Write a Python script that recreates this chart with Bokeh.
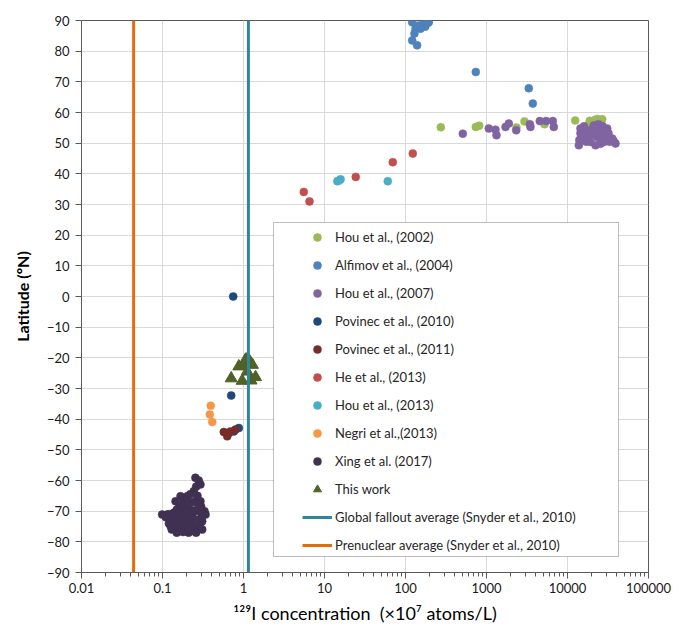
from bokeh.plotting import figure
from bokeh.models import (FixedTicker, CustomJSTickFormatter, Legend, LegendItem,
                          BoxAnnotation, Range1d)
from bokeh.embed import file_html
from bokeh.resources import INLINE

# ---------------- data ----------------
hou2002_x = [273, 738, 813, 2344, 2944, 5200, 12450, 18840, 23450, 26800, 20000, 22000, 18500]
hou2002_y = [55.2, 55.3, 55.7, 55.1, 57.1, 56.2, 57.4, 57.3, 57.9, 57.8, 57.0, 57.6, 56.2]

alfimov2004_x = [121, 146, 168, 194, 153, 133, 129, 121, 139, 738, 3327, 3730, 175, 185]
alfimov2004_y = [89.4, 88.4, 88.9, 89.4, 87.3, 87.3, 85.8, 83.5, 81.9, 73.2, 67.9, 62.9, 88.0, 89.0]

hou2007_x = [510, 1067, 1291, 1328, 1717, 1885, 2327, 3426, 3491, 4548, 5458, 6592, 6777,
             14450, 13800, 15900, 21130, 25550, 30900, 35650, 39170, 28060, 19230, 23270,
             17490, 29450, 14450, 16670, 19230, 24150, 32060, 22180, 25550,
             15000, 17000, 20000, 22000, 26000, 28000, 31000, 33000, 37000, 16000, 24000,
             27000, 14000]
hou2007_y = [53.1, 54.8, 54.4, 52.6, 55.3, 56.4, 54.2, 56.2, 55.3, 57.2, 57.2, 57.2, 55.3,
             54.8, 49.3, 51.5, 55.8, 53.7, 54.8, 51.5, 49.9, 50.4, 50.4, 52.0,
             53.1, 52.0, 53.2, 54.2, 52.6, 54.9, 53.2, 49.3, 49.8,
             52.0, 50.5, 54.5, 53.0, 51.0, 53.5, 51.8, 50.5, 50.8, 55.5, 56.2,
             55.6, 51.0]

povinec2010_x = [0.746, 0.705, 0.875, 0.76]
povinec2010_y = [0.0, -32.3, -42.9, -44.0]

povinec2011_x = [0.571, 0.63, 0.66, 0.796, 0.69]
povinec2011_y = [-44.2, -45.6, -44.5, -43.4, -44.0]

he2013_x = [5.55, 6.53, 24.3, 69.7, 123]
he2013_y = [34.1, 31.0, 39.0, 43.8, 46.6]

hou2013_x = [14.4, 15.8, 15.1, 60.4]
hou2013_y = [37.6, 38.2, 37.8, 37.6]

negri2013_x = [0.394, 0.384, 0.411]
negri2013_y = [-35.6, -38.5, -40.9]

xing2017_x = [0.255, 0.294, 0.243, 0.167, 0.145, 0.294, 0.114, 0.138, 0.126, 0.167, 0.243,
              0.309, 0.268, 0.202, 0.152, 0.222, 0.175, 0.309, 0.202, 0.145, 0.099, 0.34,
              0.222, 0.18, 0.27, 0.205, 0.126, 0.28, 0.19, 0.235, 0.16, 0.3,
              0.11, 0.12, 0.13, 0.14, 0.15, 0.16, 0.17, 0.18, 0.19, 0.2, 0.21, 0.22, 0.23,
              0.25, 0.26, 0.27, 0.29, 0.31, 0.33, 0.3, 0.28, 0.25, 0.23, 0.21, 0.19, 0.17,
              0.15, 0.13, 0.16, 0.18, 0.2, 0.22, 0.24, 0.26, 0.28, 0.27, 0.15, 0.12]
xing2017_y = [-59.1, -61.3, -63.5, -65.1, -66.8, -66.8, -71.1, -70.5, -74.9, -76.5, -76.5,
              -73.3, -69.5, -72.2, -73.8, -74.9, -68.4, -76.0, -65.1, -76.0, -71.1, -71.1,
              -69.5, -72.8, -66.2, -67.8, -72.4, -72.7, -75.5, -71.0, -69.0, -68.5,
              -72.0, -74.0, -76.0, -75.0, -77.0, -75.5, -74.0, -76.8, -73.0, -75.0, -77.0,
              -76.0, -74.0, -75.5, -77.0, -75.0, -74.5, -71.5, -70.0, -70.5, -68.0, -70.0,
              -72.0, -71.0, -70.0, -71.5, -72.5, -73.0, -69.0, -67.0, -66.0, -64.5, -67.0,
              -62.0, -60.0, -65.0, -69.5, -71.0]

thiswork_x = [0.705, 0.963, 1.24, 1.41, 0.875, 1.01, 1.13, 1.22, 1.11, 1.06, 1.29]
thiswork_y = [-26.7, -27.5, -27.4, -26.3, -22.8, -22.3, -20.1, -21.7, -24.5, -20.6, -22.3]

fallout_avg = [1.15]
prenuclear_avg = [0.044]
lat_span = [-90, 90]

x_ticks = [0.01, 0.1, 1, 10, 100, 1000, 10000, 100000]
y_ticks = list(range(-90, 91, 10))

series = [
    ("Hou et al., (2002)", hou2002_x, hou2002_y, "#9BBB59"),
    ("Alfimov et al., (2004)", alfimov2004_x, alfimov2004_y, "#4F81BD"),
    ("Hou et al., (2007)", hou2007_x, hou2007_y, "#8064A2"),
    ("Povinec et al., (2010)", povinec2010_x, povinec2010_y, "#1F497D"),
    ("Povinec et al., (2011)", povinec2011_x, povinec2011_y, "#772C2A"),
    ("He et al., (2013)", he2013_x, he2013_y, "#C0504D"),
    ("Hou et al., (2013)", hou2013_x, hou2013_y, "#4BACC6"),
    ("Negri et al.,(2013)", negri2013_x, negri2013_y, "#F79646"),
    ("Xing et al. (2017)", xing2017_x, xing2017_y, "#403152"),
]

FONT = "Lato"

p = figure(width=680, height=626, x_axis_type="log",
           x_range=Range1d(0.01, 100000), y_range=Range1d(-90, 90),
           output_backend="svg", toolbar_location=None,
           min_border_left=81, min_border_top=20, min_border_right=32, min_border_bottom=53)

p.background_fill_color = "white"
p.border_fill_color = "white"
p.outline_line_color = "#595959"
p.outline_line_width = 1

# axes
minor = []
for k in range(-2, 5):
    for m in range(2, 10):
        minor.append(m * 10 ** k)
p.xaxis.ticker = FixedTicker(ticks=x_ticks, minor_ticks=minor)
p.xaxis.formatter = CustomJSTickFormatter(code="return tick < 1 ? tick.toPrecision(1) : tick.toFixed(0);")
p.yaxis.ticker = FixedTicker(ticks=y_ticks)
for ax in (p.xaxis, p.yaxis):
    ax.axis_line_color = "#595959"
    ax.major_tick_line_color = "#595959"
    ax.minor_tick_line_color = "#595959"
    ax.major_tick_in = 0
    ax.major_tick_out = 6
    ax.minor_tick_in = 0
    ax.minor_tick_out = 4
    ax.major_label_text_font = FONT
    ax.major_label_text_font_size = "13px"
    ax.major_label_text_color = "#1a1a1a"
    ax.axis_label_text_font = FONT
    ax.axis_label_text_color = "#000000"
p.yaxis.minor_tick_out = 0
p.xaxis.major_label_standoff = 4
p.yaxis.major_label_standoff = 6
p.xaxis.axis_label = "¹²⁹I concentration\u00a0\u00a0(×10⁷ atoms/L)"
p.xaxis.axis_label_text_font_style = "normal"
p.xaxis.axis_label_text_font_size = "18px"
p.xaxis.axis_label_standoff = 6
p.yaxis.axis_label = "Latitude (ºN)"
p.yaxis.axis_label_text_font_style = "bold"
p.yaxis.axis_label_text_font_size = "16px"
p.yaxis.axis_label_standoff = 12

p.xgrid.ticker = FixedTicker(ticks=x_ticks)
p.ygrid.ticker = FixedTicker(ticks=y_ticks)
p.xgrid.grid_line_color = "#D9D9D9"
p.ygrid.grid_line_color = "#D9D9D9"

items = []
for label, xs, ys, col in series:
    r = p.scatter(xs, ys, size=8, fill_color=col, line_color=col, line_width=0.5)
    items.append(LegendItem(label=label, renderers=[r]))

rt = p.scatter(thiswork_x, thiswork_y, marker="triangle", size=12,
               fill_color="#4F6228", line_color="#4F6228")
items.append(LegendItem(label="This work", renderers=[rt]))

rg = p.segment(x0=fallout_avg, y0=[lat_span[0]], x1=fallout_avg, y1=[lat_span[1]],
               line_color="#31859C", line_width=3)
items.append(LegendItem(label="Global fallout average (Snyder et al., 2010)", renderers=[rg]))
ro = p.segment(x0=prenuclear_avg, y0=[lat_span[0]], x1=prenuclear_avg, y1=[lat_span[1]],
               line_color="#E46C0A", line_width=3)
items.append(LegendItem(label="Prenuclear average (Snyder et al., 2010)", renderers=[ro]))

box = BoxAnnotation(left=192, right=537, bottom=16, top=350,
                    left_units="screen", right_units="screen",
                    bottom_units="screen", top_units="screen",
                    fill_color="white", fill_alpha=1.0,
                    line_color="#262626", line_width=1)
p.add_layout(box)

legend = Legend(items=items, location=(221, 17), padding=0, margin=0,
                border_line_alpha=0, background_fill_alpha=0,
                glyph_width=30, glyph_height=20, label_height=20, spacing=8,
                label_standoff=3, label_text_font=FONT, label_text_font_size="13px",
                label_text_color="#262626")
p.add_layout(legend, "center")

open("out.html", "w").write(file_html(p, INLINE))
